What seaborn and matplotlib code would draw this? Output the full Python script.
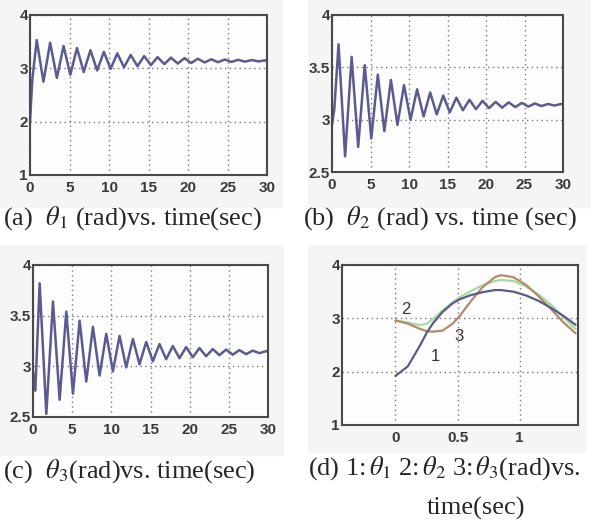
import matplotlib
matplotlib.use('Agg')
import matplotlib.pyplot as plt
import matplotlib.patches as mpatches
import seaborn as sns

# extremum times shared by the three 30 s responses (sec)
t_ext = [0, 0.3, 0.85, 1.7, 2.55, 3.4, 4.25, 5.1, 5.95, 6.8, 7.65, 8.5, 9.35,
         10.2, 11.05, 11.9, 12.75, 13.6, 14.45, 15.3, 16.15, 17.0, 17.85, 18.7,
         19.55, 20.4, 21.25, 22.1, 22.95, 23.8, 24.65, 25.5, 26.35, 27.2, 28.05,
         28.9, 29.75, 30.0]

theta1 = [2.0, 2.8, 3.53, 2.75, 3.48, 2.82, 3.42, 2.88, 3.38, 2.93, 3.34, 2.96, 3.31,
          2.99, 3.28, 3.02, 3.25, 3.04, 3.23, 3.06, 3.21, 3.08, 3.2, 3.09,
          3.19, 3.1, 3.18, 3.11, 3.17, 3.115, 3.165, 3.12, 3.16, 3.125, 3.155,
          3.13, 3.15, 3.14]

theta2 = [2.95, 3.1, 3.72, 2.65, 3.6, 2.74, 3.52, 2.82, 3.43, 2.89, 3.38, 2.95, 3.33,
          3.0, 3.29, 3.03, 3.26, 3.05, 3.23, 3.07, 3.21, 3.09, 3.19, 3.1,
          3.18, 3.11, 3.17, 3.115, 3.165, 3.12, 3.16, 3.125, 3.155, 3.13, 3.15,
          3.135, 3.15, 3.145]

theta3 = [2.95, 2.76, 3.82, 2.53, 3.64, 2.67, 3.54, 2.73, 3.45, 2.85, 3.39, 2.91, 3.32,
          2.95, 3.3, 2.99, 3.27, 3.02, 3.24, 3.05, 3.22, 3.07, 3.2, 3.08,
          3.19, 3.09, 3.18, 3.1, 3.17, 3.11, 3.165, 3.115, 3.16, 3.12, 3.155,
          3.13, 3.15, 3.145]

# zoom of the first 1.45 s (panel d)
t_d = [0, 0.1, 0.2, 0.25, 0.3, 0.38, 0.46, 0.52, 0.6, 0.7, 0.8, 0.85, 0.95,
       1.05, 1.15, 1.25, 1.35, 1.45]
d_theta1 = [1.92, 2.1, 2.5, 2.72, 2.9, 3.12, 3.28, 3.36, 3.43, 3.49, 3.53, 3.53, 3.5,
            3.43, 3.33, 3.2, 3.05, 2.88]
d_theta2 = [2.96, 2.92, 2.87, 2.9, 2.98, 3.15, 3.3, 3.4, 3.5, 3.62, 3.7, 3.72, 3.7,
            3.6, 3.45, 3.26, 3.03, 2.8]
d_theta3 = [2.96, 2.9, 2.8, 2.76, 2.75, 2.77, 2.9, 3.05, 3.3, 3.58, 3.77, 3.81, 3.77,
            3.63, 3.42, 3.18, 2.93, 2.72]

captions = [r'(a)  $\theta_1$ (rad)vs. time(sec)',
            r'(b)  $\theta_2$ (rad) vs. time (sec)',
            r'(c)  $\theta_3$(rad)vs. time(sec)',
            r'(d) 1:$\,\theta_1$ 2:$\,\theta_2$ 3:$\,\theta_3$(rad)vs.']

sns.set_style('white')
plt.rcParams['font.family'] = ['Liberation Serif', 'DejaVu Serif']
plt.rcParams['mathtext.fontset'] = 'stix'

W, H = 599, 523
fig = plt.figure(figsize=(W / 100, H / 100), dpi=100)
fig.patch.set_facecolor('white')

# light grey panels behind each plot (pixel boxes: x0, y0, x1, y1)
for x0, y0, x1, y1 in [(0, 0, 282, 207), (308, 0, 590, 207),
                       (0, 245, 283, 455), (308, 245, 585, 452)]:
    fig.patches.append(mpatches.Rectangle((x0 / W, 1 - y1 / H), (x1 - x0) / W, (y1 - y0) / H,
                                          transform=fig.transFigure, color='#f5f5f5', zorder=-10))


def make_ax(l, t, r, b):
    return fig.add_axes([l / W, 1 - b / H, (r - l) / W, (b - t) / H])


tick_font = ['Liberation Sans Narrow', 'Liberation Sans']
line_col = '#5b5b8f'


def style(ax, xlim, ylim, xt, yt, xtl, ytl):
    ax.set_facecolor('#fdfdfd')
    ax.set_xlim(xlim)
    ax.set_ylim(ylim)
    ax.set_xticks(xt)
    ax.set_yticks(yt)
    ax.set_xticklabels(xtl, family=tick_font, fontsize=11, color='#3a3a3a', weight='bold')
    ax.set_yticklabels(ytl, family=tick_font, fontsize=11, color='#3a3a3a', weight='bold')
    ax.tick_params(direction='in', length=3, width=0.8, color='#555555', pad=1.5)
    ax.tick_params(axis='x', pad=4)
    ax.grid(True, linestyle=(0, (1, 2.5)), color='#777777', linewidth=1.0)
    for s in ax.spines.values():
        s.set_color('#4a4a4a')
        s.set_linewidth(1.5)
    ax.set_xlabel('')
    ax.set_ylabel('')


xt30 = [0, 5, 10, 15, 20, 25, 30]
xtl30 = ['0', '5', '10', '15', '20', '25', '30']

ax_a = make_ax(30, 15, 267, 175)
sns.lineplot(x=t_ext, y=theta1, ax=ax_a, color=line_col, linewidth=1.8)
style(ax_a, (0, 30), (1, 4), xt30, [1, 2, 3, 4], xtl30, ['1', '2', '3', '4'])

ax_b = make_ax(332, 15, 563, 172)
sns.lineplot(x=t_ext, y=theta2, ax=ax_b, color=line_col, linewidth=1.8)
style(ax_b, (0, 30), (2.5, 4), xt30, [2.5, 3, 3.5, 4], xtl30, ['2.5', '3', '3.5', '4'])

ax_c = make_ax(33, 265, 268, 417)
sns.lineplot(x=t_ext, y=theta3, ax=ax_c, color=line_col, linewidth=1.8)
style(ax_c, (0, 30), (2.5, 4), xt30, [2.5, 3, 3.5, 4], xtl30, ['2.5', '3', '3.5', '4'])

ax_d = make_ax(342, 265, 578, 425)
sns.lineplot(x=t_d, y=d_theta2, ax=ax_d, color='#a3dba3', linewidth=1.6)
sns.lineplot(x=t_d, y=d_theta3, ax=ax_d, color='#b58a6a', linewidth=1.6)
sns.lineplot(x=t_d, y=d_theta1, ax=ax_d, color='#5c5a88', linewidth=1.6)
style(ax_d, (-0.43, 1.47), (1, 4), [0, 0.5, 1], [1, 2, 3, 4], ['0', '0.5', '1'], ['1', '2', '3', '4'])
for lab, tx, ty in [('2', 0.08, 3.16), ('3', 0.51, 2.66), ('1', 0.32, 2.28)]:
    ax_d.text(tx, ty, lab, family=tick_font, fontsize=12, color='#333333',
              ha='center', va='center')

# captions
cap_fs = 19
fig.text(3 / W, 1 - 218 / H, captions[0], fontsize=cap_fs, va='center', ha='left')
fig.text(303 / W, 1 - 218 / H, captions[1], fontsize=cap_fs, va='center', ha='left')
fig.text(3 / W, 1 - 471 / H, captions[2], fontsize=cap_fs, va='center', ha='left')
fig.text(308 / W, 1 - 468 / H, captions[3], fontsize=cap_fs, va='center', ha='left')
fig.text(476 / W, 1 - 508 / H, 'time(sec)', fontsize=cap_fs, va='center', ha='center')

fig.savefig('out.png', dpi=100)
